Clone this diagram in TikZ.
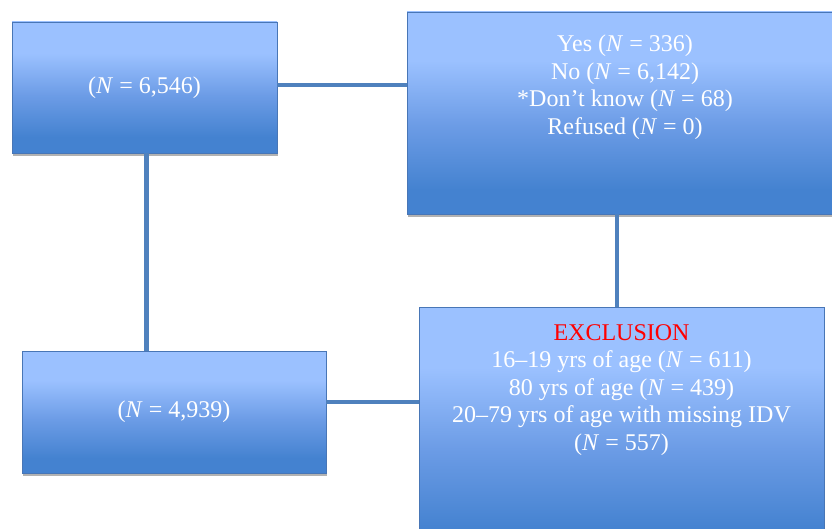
\documentclass[tikz,border=0pt]{standalone}
\usepackage{fontspec}
\setmainfont{Liberation Serif}
\usetikzlibrary{shadows}
\definecolor{linec}{RGB}{79,129,189}
\definecolor{boxtop}{RGB}{155,193,255}
\definecolor{boxmid}{RGB}{108,156,230}
\definecolor{boxbot}{RGB}{68,130,208}
\definecolor{boxedge}{RGB}{72,118,182}
\pgfdeclareverticalshading{boxgrad}{100bp}{color(0bp)=(boxbot); color(31bp)=(boxbot); color(47bp)=(boxmid); color(63bp)=(boxtop); color(100bp)=(boxtop)}
\tikzset{
  boxst/.style={rectangle, draw=boxedge, line width=0.8pt, shading=boxgrad,
    drop shadow={shadow xshift=1pt, shadow yshift=-3pt, opacity=0.3, fill=black},
    text=white, font=\fontsize{24}{27.5}\selectfont, align=center, inner sep=0pt},
  txtst/.style={text=white, font=\fontsize{24}{27.5}\selectfont, align=center, inner sep=0pt, anchor=north},
  conn/.style={draw=linec, line width=4.5pt}
}
\newcommand{\NN}{\textit{N}}
\begin{document}
\begin{tikzpicture}[x=1pt, y=-1pt]
\useasboundingbox (0,0) rectangle (832,529);
\fill[white] (0,0) rectangle (832,529);
% boxes
\node[boxst, minimum width=265pt, minimum height=131pt] (A) at (144.5,87.5) {(\NN\ = 6,546)};
\node[boxst, minimum width=436pt, minimum height=202pt] (B) at (625,113) {};
\node[txtst] (Bt) at (625,35) {Yes (\NN\ = 336)\\No (\NN\ = 6,142)\\*Don’t know (\NN\ = 68)\\Refused (\NN\ = 0)};
\node[boxst, minimum width=304pt, minimum height=122pt] (C) at (174,412) {(\NN\ = 4,939)};
\node[boxst, minimum width=405pt, minimum height=253pt] (D) at (621.5,433.5) {};
\node[txtst] (Dt) at (621.5,324) {\textcolor{red}{EXCLUSION}\\16–19 yrs of age (\NN\ = 611)\\80 yrs of age (\NN\ = 439)\\20–79 yrs of age with missing IDV\\(\NN\ = 557)};
% connectors
\draw[conn] ([yshift=2.5pt]A.east) -- ([yshift=2.5pt]A.east -| B.west);
\draw[conn] ([xshift=2pt]A.south) -- ([xshift=2pt]A.south |- C.north);
\draw[conn] ([xshift=-8pt]B.south) -- ([xshift=-8pt]B.south |- D.north);
\draw[conn] ([yshift=10pt]C.east) -- ([yshift=10pt]C.east -| D.west);
\end{tikzpicture}
\end{document}
